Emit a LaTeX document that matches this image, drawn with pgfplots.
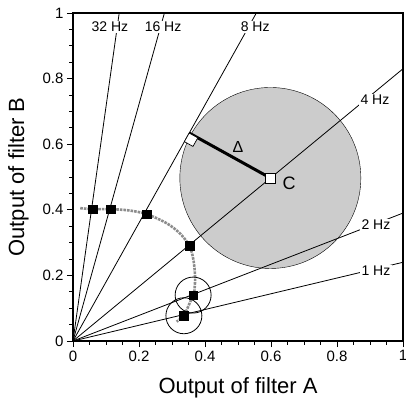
\documentclass[border=0pt]{standalone}
\usepackage{fontspec}
\setmainfont{Liberation Sans}
\usepackage{pgfplots}
\pgfplotsset{compat=1.18}
\begin{document}
\begin{tikzpicture}
\begin{axis}[
  name=ax,
  clip marker paths=true,
  scale only axis,
  width=330pt, height=328pt,
  xmin=0, xmax=1, ymin=0, ymax=1,
  xtick={0,0.2,0.4,0.6,0.8,1}, ytick={0,0.2,0.4,0.6,0.8,1},
  minor tick num=3,
  tick align=outside,
  xtick pos=bottom, ytick pos=left,
  major tick length=6pt, minor tick length=3.5pt,
  every tick/.style={black, line width=0.8pt},
  axis line style={line width=1.1pt},
  /pgf/number format/assume math mode=true,
  ticklabel style={font=\fontsize{15}{15}\selectfont},
  xlabel={Output of filter A}, ylabel={Output of filter B},
  every axis x label/.style={at={(axis description cs:0.5,-0.143)}, anchor=center, font=\fontsize{22}{22}\selectfont},
  every axis y label/.style={at={(axis description cs:-0.165,0.5)}, rotate=90, anchor=center, font=\fontsize{22}{22}\selectfont},
  clip=false,
]
% shaded region round C
\addplot[only marks, mark=*, mark size=90.5pt, mark options={draw=none, fill=black!20}] coordinates {(0.598,0.497)};
% frequency rays
\addplot[black, line width=0.8pt] coordinates {(0,0) (1,0.24)};
\addplot[black, line width=0.8pt] coordinates {(0,0) (1,0.39)};
\addplot[black, line width=0.8pt] coordinates {(0,0) (1,0.83)};
\addplot[black, line width=0.8pt] coordinates {(0,0) (0.5556,1)};
\addplot[black, line width=0.8pt] coordinates {(0,0) (0.277,1)};
\addplot[black, line width=0.8pt] coordinates {(0,0) (0.14,1)};
% trajectory
\addplot[black!45, line width=2.6pt, densely dotted, smooth, tension=0.5] coordinates {
 (0.022,0.405) (0.059,0.402) (0.114,0.402) (0.17,0.398) (0.223,0.387)
 (0.284,0.359) (0.324,0.328) (0.353,0.29) (0.365,0.247) (0.370,0.196)
 (0.368,0.155) (0.364,0.14) (0.349,0.105) (0.336,0.077) (0.314,0.059)};
% Delta segment
\addplot[black, line width=3pt] coordinates {(0.352,0.634) (0.598,0.497)};
% right-angle mark
\addplot[black, line width=0.7pt, fill=white] coordinates {(0.352,0.634) (0.3374,0.6078) (0.3636,0.5932) (0.3782,0.6194)} -- cycle;
% uncertainty circles
\addplot[only marks, mark=o, mark size=18pt, mark options={black, line width=0.8pt}] coordinates {(0.364,0.14) (0.336,0.077)};
% filter outputs
\addplot[only marks, mark=square*, mark size=4.3pt, mark options={black}] coordinates {
 (0.059,0.402) (0.114,0.402) (0.223,0.387) (0.353,0.29) (0.364,0.14) (0.336,0.077)};
% C
\addplot[only marks, mark=square*, mark size=5pt, mark options={draw=black, fill=white, line width=0.8pt}] coordinates {(0.598,0.497)};
% labels
\begin{scope}[every node/.style={font=\fontsize{14}{14}\selectfont, fill=white, inner sep=1.2pt}]
\node at (axis cs:0.112,0.957) {32 Hz};
\node at (axis cs:0.273,0.957) {16 Hz};
\node at (axis cs:0.552,0.957) {8 Hz};
\node at (axis cs:0.915,0.735) {4 Hz};
\node at (axis cs:0.918,0.354) {2 Hz};
\node at (axis cs:0.918,0.213) {1 Hz};
\end{scope}
\node[font=\fontsize{18}{18}\selectfont] at (axis cs:0.655,0.482) {C};
\node[font=\fontsize{16}{16}\selectfont] at (axis cs:0.5,0.59) {Δ};
\end{axis}
\pgfresetboundingbox
\path[use as bounding box] ([xshift=-73pt,yshift=-66pt]ax.south west) rectangle ([xshift=2pt,yshift=13pt]ax.north east);
\end{tikzpicture}
\end{document}
